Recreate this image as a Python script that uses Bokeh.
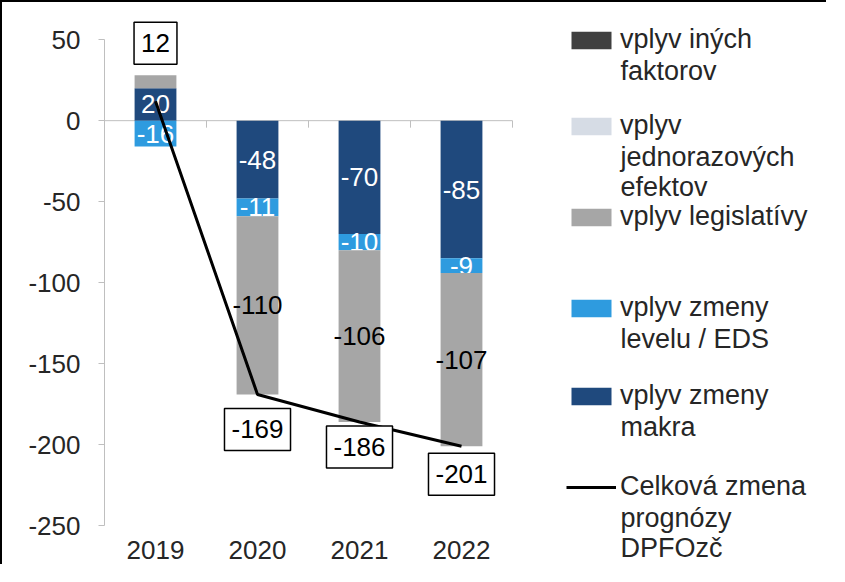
import numpy as np
from bokeh.plotting import figure
from bokeh.models import ColumnDataSource, Legend, LegendItem, FixedTicker, Range1d, Label
from bokeh.embed import file_html
from bokeh.resources import INLINE
from bokeh.core.properties import value

# ---------------- data ----------------
years = ["2019", "2020", "2021", "2022"]
makra = [20, -48, -70, -85]            # vplyv zmeny makra
level_eds = [-16, -11, -10, -9]        # vplyv zmeny levelu / EDS
legislativa = [8, -110, -106, -107]    # vplyv legislatívy
jednorazove = [0, 0, 0, 0]             # vplyv jednorazových efektov
ine = [0, 0, 0, 0]                     # vplyv iných faktorov
celkova = [12, -169, -186, -201]       # Celková zmena prognózy DPFOzč
y_ticks = [-250, -200, -150, -100, -50, 0, 50]

name_makra = "vplyv zmeny\nmakra"
name_level = "vplyv zmeny\nlevelu / EDS"
name_legis = "vplyv legislatívy"
name_jedn = "vplyv\njednorazových\nefektov"
name_ine = "vplyv iných\nfaktorov"
name_total = "Celková zmena\nprognózy\nDPFOzč"

# which segments carry a data label
label_makra = [True, True, True, True]
label_level = [True, True, True, True]
label_legis = [False, True, True, True]

# ---------------- style / layout ----------------
FONT = "Liberation Sans"
TXT = "#262626"
C_MAKRA = "#1F497D"
C_LEVEL = "#2E9BDF"
C_LEGIS = "#A6A6A6"
C_JEDN = "#D6DCE5"
C_INE = "#404040"
AX = "#BFBFBF"

W, H = 826, 564
LEFT, TOP, BOTTOM = 102, 8, 2
CAT_PX = 102
frame_w = W - LEFT
frame_h = H - TOP - BOTTOM
y1 = 68
y0 = y1 - frame_h / 1.62
x_end = -0.5 + frame_w / CAT_PX
px_per_unit = frame_h / (y1 - y0)

p = figure(width=W, height=H, output_backend="svg", toolbar_location=None,
           x_range=Range1d(-0.5, x_end), y_range=Range1d(y0, y1),
           min_border_left=LEFT, min_border_right=0, min_border_top=TOP,
           min_border_bottom=BOTTOM)
p.styles = {"border-top": "2px solid #000", "border-left": "2px solid #000"}
p.outline_line_color = None
p.grid.visible = False
p.background_fill_color = "white"
p.border_fill_color = "white"

# y axis
p.yaxis.ticker = FixedTicker(ticks=y_ticks)
p.yaxis.major_label_overrides = {t: str(t) for t in y_ticks}
p.yaxis.bounds = (min(y_ticks), max(y_ticks))
p.yaxis.axis_line_color = AX
p.yaxis.major_tick_line_color = AX
p.yaxis.major_tick_out = 6
p.yaxis.major_tick_in = 0
p.yaxis.minor_tick_line_color = None
p.yaxis.major_label_standoff = 18
p.yaxis.major_label_text_font = FONT
p.yaxis.major_label_text_font_size = "26px"
p.yaxis.major_label_text_color = TXT

# x axis (labels pulled up into the bottom of the plot area)
idx = np.arange(len(years))
p.xaxis.ticker = FixedTicker(ticks=list(idx))
p.xaxis.major_label_overrides = {int(i): y for i, y in zip(idx, years)}
p.xaxis.axis_line_color = None
p.xaxis.major_tick_line_color = None
p.xaxis.major_tick_out = 0
p.xaxis.minor_tick_line_color = None
p.xaxis.major_label_standoff = -24
p.xaxis.major_label_text_font = FONT
p.xaxis.major_label_text_font_size = "26px"
p.xaxis.major_label_text_color = TXT

# zero line with category-boundary ticks
p.segment(x0=[-0.5], x1=[len(years) - 0.5], y0=[0], y1=[0], line_color=AX, line_width=1)
bx = idx + 0.5
p.segment(x0=bx, x1=bx, y0=np.zeros(len(bx)), y1=np.full(len(bx), -7 / px_per_unit),
          line_color=AX, line_width=1)

# ---------------- stacked bars (Excel-like, split by sign) ----------------
pos = np.zeros(len(years))
neg = np.zeros(len(years))
renderers = {}
stack = [(name_makra, makra, C_MAKRA, label_makra, "white"),
         (name_level, level_eds, C_LEVEL, label_level, "white"),
         (name_legis, legislativa, C_LEGIS, label_legis, "black"),
         (name_jedn, jednorazove, C_JEDN, None, None),
         (name_ine, ine, C_INE, None, None)]
BAR_W = 0.41
for name, vals, col, lab, tcol in stack:
    v = np.array(vals, dtype=float)
    bottom = np.where(v >= 0, pos, neg)
    top = bottom + v
    pos = np.where(v >= 0, top, pos)
    neg = np.where(v < 0, top, neg)
    src = ColumnDataSource(dict(x=idx, bottom=bottom, top=top))
    r = p.vbar(x="x", width=BAR_W, bottom="bottom", top="top", source=src,
               fill_color=col, line_color=None)
    renderers[name] = r
    if lab is not None:
        m = np.array(lab)
        lsrc = ColumnDataSource(dict(x=idx[m], y=((bottom + top) / 2)[m],
                                     t=[f"{int(x)}" for x in v[m]]))
        p.text(x="x", y="y", text="t", source=lsrc, text_align="center",
               text_baseline="middle", text_color=tcol, text_font=value(FONT),
               text_font_size=value("26px"))

# ---------------- total line with boxed labels ----------------
tsrc = ColumnDataSource(dict(x=idx, y=celkova))
r_total = p.line(x="x", y="y", source=tsrc, line_color="black", line_width=3)
label_dy = [-58, 35, 25, 28]   # screen offsets of the boxed labels
bsrc = ColumnDataSource(dict(x=idx, y=celkova, t=[str(c) for c in celkova], dy=label_dy))
p.text(x="x", y="y", text="t", source=bsrc, y_offset="dy", text_align="center",
       text_baseline="middle", text_color="black", text_font=value(FONT),
       text_font_size=value("26px"), background_fill_color="white",
       border_line_color="black", border_line_width=1.5,
       padding=dict(left=7, right=7, top=12, bottom=12))

# ---------------- legend (swatch aligned with the first text line) ----------------
legend_entries = [(name_ine, renderers[name_ine]),
                  (name_jedn, renderers[name_jedn]),
                  (name_legis, renderers[name_legis]),
                  (name_level, renderers[name_level]),
                  (name_makra, renderers[name_makra]),
                  (name_total, r_total)]
first_line_y = [40, 126, 217, 308, 396, 487]   # element-y of first text line
LINE_H = 30
LEG_X = 462
GW = 50
frame_bottom = 2 + TOP + frame_h
for (lbl, rr), cy in zip(legend_entries, first_line_y):
    lines = lbl.split("\n")
    lg = Legend(items=[LegendItem(label=lines[0], renderers=[rr])],
                location=(LEG_X, frame_bottom - (cy + LINE_H / 2)),
                padding=0, margin=0, spacing=0,
                border_line_color=None, background_fill_alpha=0,
                glyph_width=GW, glyph_height=22, label_standoff=4,
                label_height=LINE_H, label_text_line_height=1.0,
                label_text_font=FONT, label_text_font_size="27px",
                label_text_color=TXT)
    p.add_layout(lg)
    for k, extra in enumerate(lines[1:], start=1):
        p.add_layout(Label(x=LEG_X + GW + 4, y=frame_bottom - (cy + k * LINE_H),
                           x_units="screen", y_units="screen", text=extra,
                           text_align="left", text_baseline="middle",
                           text_font=FONT, text_font_size="27px", text_color=TXT))

open("out.html", "w").write(file_html(p, INLINE))
